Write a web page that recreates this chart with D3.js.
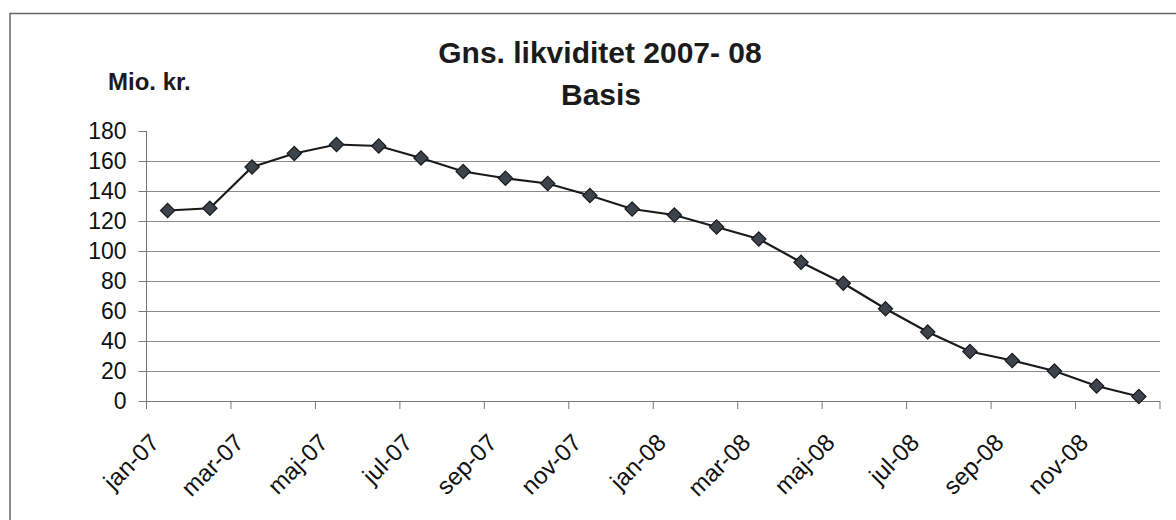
<!DOCTYPE html>
<html>
<head>
<meta charset="utf-8">
<script src="https://cdn.jsdelivr.net/npm/d3@7"></script>
<style>
  body { margin: 0; background: #fff; }
  svg { display: block; font-family: "Liberation Sans", Arial, sans-serif; }
</style>
</head>
<body>
<div id="chart"></div>
<script>
// month categories (Danish), values in Mio. kr.
const months = [
  "jan-07", "feb-07", "mar-07", "apr-07", "maj-07", "jun-07",
  "jul-07", "aug-07", "sep-07", "okt-07", "nov-07", "dec-07",
  "jan-08", "feb-08", "mar-08", "apr-08", "maj-08", "jun-08",
  "jul-08", "aug-08", "sep-08", "okt-08", "nov-08", "dec-08"
];
const likviditet = [
  127, 128.5, 156, 165, 171, 170, 162, 153, 148.5, 145, 137, 128,
  124, 116, 108, 92.5, 78.5, 61.5, 46, 33, 27, 20, 10, 3
];
const yTicks = [0, 20, 40, 60, 80, 100, 120, 140, 160, 180];

const W = 1176, H = 520;
const plot = { left: 146.5, right: 1160, top: 131, bottom: 401 };

const svg = d3.select("#chart")
  .append("svg")
  .attr("width", W)
  .attr("height", H);

svg.append("rect")
  .attr("width", W).attr("height", H)
  .attr("fill", "#fff");

// outer chart frame (runs off the right and bottom edge)
svg.append("rect")
  .attr("x", 10).attr("y", 13.5)
  .attr("width", W + 20).attr("height", H + 20)
  .attr("fill", "none")
  .attr("stroke", "#666")
  .attr("stroke-width", 1.5);

const x = d3.scaleBand().domain(months).range([plot.left, plot.right]).padding(0);
const y = d3.scaleLinear().domain([0, 180]).range([plot.bottom, plot.top]);

// gridlines (none at the top value)
svg.append("g")
  .selectAll("line")
  .data(yTicks.filter(d => d > 0 && d < 180))
  .enter()
  .append("line")
  .attr("x1", plot.left)
  .attr("x2", plot.right)
  .attr("y1", d => Math.round(y(d)) + 0.5)
  .attr("y2", d => Math.round(y(d)) + 0.5)
  .attr("stroke", "#8a8a8a")
  .attr("stroke-width", 1.2);

// y axis
const yAxis = d3.axisLeft(y).tickValues(yTicks).tickSize(8).tickPadding(12);
const gy = svg.append("g")
  .attr("transform", "translate(" + plot.left + ",0)")
  .call(yAxis);
gy.select(".domain").attr("stroke", "#777").attr("d", "M0," + y(180) + "V" + y(0));
gy.selectAll(".tick line").attr("stroke", "#777");
gy.selectAll(".tick text")
  .attr("fill", "#111")
  .style("font-size", "23px");

// x axis: ticks between categories, every second month
const gx = svg.append("g");
gx.append("line")
  .attr("x1", plot.left).attr("x2", plot.right)
  .attr("y1", plot.bottom + 0.5).attr("y2", plot.bottom + 0.5)
  .attr("stroke", "#777")
  .attr("stroke-width", 1.2);

const tickPos = months.filter((m, i) => i % 2 === 0).map(m => x(m)).concat([plot.right]);
gx.selectAll(".xtick")
  .data(tickPos)
  .enter()
  .append("line")
  .attr("class", "xtick")
  .attr("x1", d => d).attr("x2", d => d)
  .attr("y1", plot.bottom).attr("y2", plot.bottom + 8)
  .attr("stroke", "#777");

gx.selectAll(".xlabel")
  .data(months.filter((m, i) => i % 2 === 0))
  .enter()
  .append("text")
  .attr("class", "xlabel")
  .attr("text-anchor", "end")
  .attr("transform", d => "translate(" + (x(d) + x.bandwidth() / 2 - 7) + "," + (plot.bottom + 43) + ") rotate(-45)")
  .attr("fill", "#111")
  .style("font-size", "24px")
  .text(d => d);

// line + diamond markers
const data = months.map((m, i) => ({ month: m, value: likviditet[i] }));
const line = d3.line()
  .x(d => x(d.month) + x.bandwidth() / 2)
  .y(d => y(d.value));

svg.append("path")
  .datum(data)
  .attr("d", line)
  .attr("fill", "none")
  .attr("stroke", "#1a1a1a")
  .attr("stroke-width", 2.2);

svg.selectAll(".marker")
  .data(data)
  .enter()
  .append("path")
  .attr("class", "marker")
  .attr("d", d3.symbol().type(d3.symbolDiamond2).size(130))
  .attr("transform", d => "translate(" + (x(d.month) + x.bandwidth() / 2) + "," + y(d.value) + ")")
  .attr("fill", "#3d434d")
  .attr("stroke", "#1a1a1a")
  .attr("stroke-width", 1.2);

// titles
svg.append("text")
  .attr("x", 600).attr("y", 63)
  .attr("text-anchor", "middle")
  .attr("fill", "#1b1b1b")
  .style("font-size", "30px").style("font-weight", "bold")
  .text("Gns. likviditet 2007- 08");

svg.append("text")
  .attr("x", 601).attr("y", 105)
  .attr("text-anchor", "middle")
  .attr("fill", "#1b1b1b")
  .style("font-size", "30px").style("font-weight", "bold")
  .text("Basis");

svg.append("text")
  .attr("x", 108).attr("y", 90)
  .attr("fill", "#1b1b1b")
  .style("font-size", "24px").style("font-weight", "bold")
  .text("Mio. kr.");
</script>
</body>
</html>
